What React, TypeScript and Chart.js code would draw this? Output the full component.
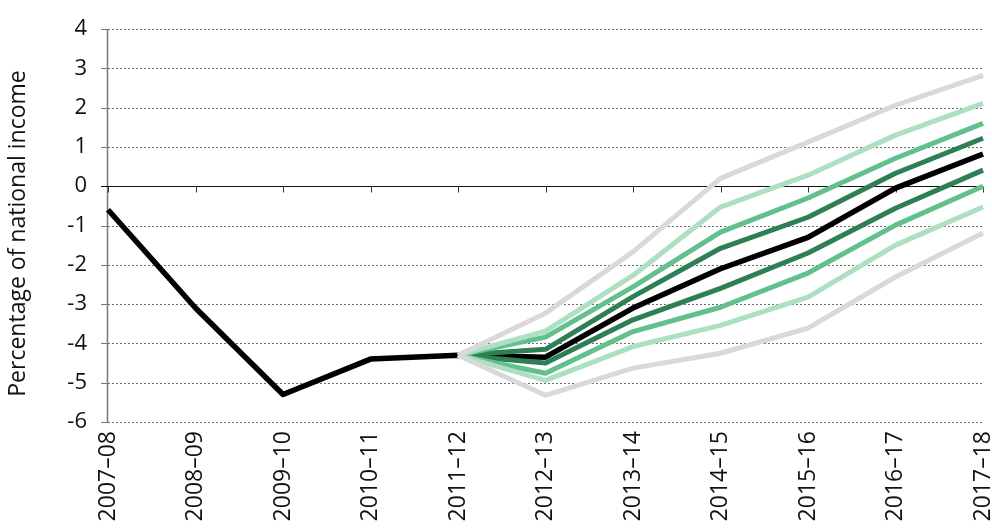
import React, { useEffect, useRef } from "react";
import { Chart, registerables } from "chart.js";

Chart.register(...registerables);

const categories = ["2007–08", "2008–09", "2009–10", "2010–11", "2011–12", "2012–13", "2013–14", "2014–15", "2015–16", "2016–17", "2017–18"];
const central = [-0.6, -3.1, -5.3, -4.4, -4.3, -4.35, -3.1, -2.1, -1.3, -0.05, 0.82];
const greyTop = [null, null, null, null, -4.3, -3.23, -1.67, 0.2, 1.12, 2.06, 2.82];
const lightTop = [null, null, null, null, -4.3, -3.69, -2.27, -0.53, 0.28, 1.3, 2.11];
const midTop = [null, null, null, null, -4.3, -3.84, -2.56, -1.17, -0.3, 0.71, 1.6];
const darkTop = [null, null, null, null, -4.3, -4.15, -2.81, -1.58, -0.79, 0.33, 1.22];
const darkBot = [null, null, null, null, -4.3, -4.5, -3.4, -2.6, -1.7, -0.56, 0.41];
const midBot = [null, null, null, null, -4.3, -4.76, -3.7, -3.08, -2.21, -0.99, 0.0];
const lightBot = [null, null, null, null, -4.3, -4.94, -4.08, -3.54, -2.82, -1.5, -0.53];
const greyBot = [null, null, null, null, -4.3, -5.32, -4.63, -4.25, -3.61, -2.31, -1.19];

const yMin = -6;
const yMax = 4;
const yTitle = "Percentage of national income";

const GREY = "#d9d9d9";
const LIGHT = "#addfc2";
const MID = "#62c08d";
const DARK = "#2e7f53";
const FONT = "'Open Sans', sans-serif";

const gridPlugin = {
  id: "customGrid",
  beforeDatasetsDraw(chart: any) {
    const { ctx, chartArea, scales } = chart;
    const y = scales.y;
    const x = scales.x;
    ctx.save();
    for (let v = yMin; v <= yMax; v++) {
      const py = Math.round(y.getPixelForValue(v)) + 0.5;
      if (v !== 0) {
        ctx.strokeStyle = "#6e6e6e";
        ctx.lineWidth = 1;
        ctx.setLineDash([2, 2]);
        ctx.beginPath();
        ctx.moveTo(chartArea.left, py);
        ctx.lineTo(chartArea.right, py);
        ctx.stroke();
      }
      ctx.setLineDash([]);
      ctx.strokeStyle = "#777777";
      ctx.beginPath();
      ctx.moveTo(chartArea.left - 7, py);
      ctx.lineTo(chartArea.left, py);
      ctx.stroke();
    }
    ctx.setLineDash([]);
    ctx.strokeStyle = "#777777";
    ctx.lineWidth = 1.5;
    ctx.beginPath();
    ctx.moveTo(chartArea.left - 0.5, chartArea.top);
    ctx.lineTo(chartArea.left - 0.5, chartArea.bottom);
    ctx.stroke();
    const zy = Math.round(y.getPixelForValue(0)) + 0.5;
    ctx.strokeStyle = "#111111";
    ctx.lineWidth = 1.2;
    ctx.beginPath();
    ctx.moveTo(chartArea.left - 7, zy);
    ctx.lineTo(chartArea.right, zy);
    ctx.stroke();
    ctx.strokeStyle = "#333333";
    ctx.lineWidth = 1;
    for (let i = 0; i < categories.length; i++) {
      const px = Math.round(x.getPixelForValue(i)) + 0.5;
      ctx.beginPath();
      ctx.moveTo(px, zy);
      ctx.lineTo(px, zy + 6);
      ctx.stroke();
    }
    ctx.restore();
  },
  afterDraw(chart: any) {
    const { ctx, chartArea } = chart;
    ctx.save();
    ctx.translate(18, (chartArea.top + chartArea.bottom) / 2 + 8);
    ctx.rotate(-Math.PI / 2);
    ctx.font = `23px ${FONT}`;
    ctx.fillStyle = "#111111";
    ctx.textAlign = "center";
    ctx.textBaseline = "middle";
    ctx.fillText(yTitle, 0, 0);
    ctx.restore();
  },
};

function line(data: (number | null)[], color: string, width: number) {
  return {
    data,
    borderColor: color,
    backgroundColor: color,
    borderWidth: width,
    pointRadius: 0,
    tension: 0,
    fill: false,
    spanGaps: false,
    borderCapStyle: "butt" as const,
    borderJoinStyle: "round" as const,
  };
}

export default function App() {
  const ref = useRef<HTMLCanvasElement>(null);
  useEffect(() => {
    document.body.style.margin = "0";
    const chart = new Chart(ref.current!, {
      type: "line",
      data: {
        labels: categories,
        datasets: [
          line(greyTop, GREY, 5),
          line(greyBot, GREY, 5),
          line(lightTop, LIGHT, 5),
          line(lightBot, LIGHT, 5),
          line(midTop, MID, 5),
          line(midBot, MID, 5),
          line(darkTop, DARK, 5),
          line(darkBot, DARK, 5),
          line(central, "#000000", 5.5),
        ],
      },
      options: {
        animation: false,
        responsive: false,
        maintainAspectRatio: false,
        layout: { padding: { top: 29, right: 9, left: 0, bottom: 0 } },
        plugins: { legend: { display: false }, tooltip: { enabled: false } },
        scales: {
          x: {
            type: "category",
            offset: false,
            grid: { display: false, drawTicks: false },
            border: { display: false },
            ticks: {
              autoSkip: false,
              maxRotation: 90,
              minRotation: 90,
              padding: 9,
              color: "#111111",
              font: { family: FONT, size: 23 },
            },
            afterFit(scale: any) {
              scale.height = 108;
              scale.paddingLeft = 0;
              scale.paddingRight = 0;
            },
          },
          y: {
            min: yMin,
            max: yMax,
            grid: { display: false, drawTicks: false },
            border: { display: false },
            ticks: {
              stepSize: 1,
              padding: 21,
              color: "#111111",
              font: { family: FONT, size: 22 },
            },
            title: { display: false },
            afterFit(scale: any) {
              scale.width = 108;
              scale.paddingTop = 0;
              scale.paddingBottom = 0;
            },
          },
        },
      },
      plugins: [gridPlugin],
    });
    return () => chart.destroy();
  }, []);
  return (
    <div style={{ width: 992, height: 530 }}>
      <canvas ref={ref} width={992} height={530} style={{ width: 992, height: 530, display: "block" }} />
    </div>
  );
}
